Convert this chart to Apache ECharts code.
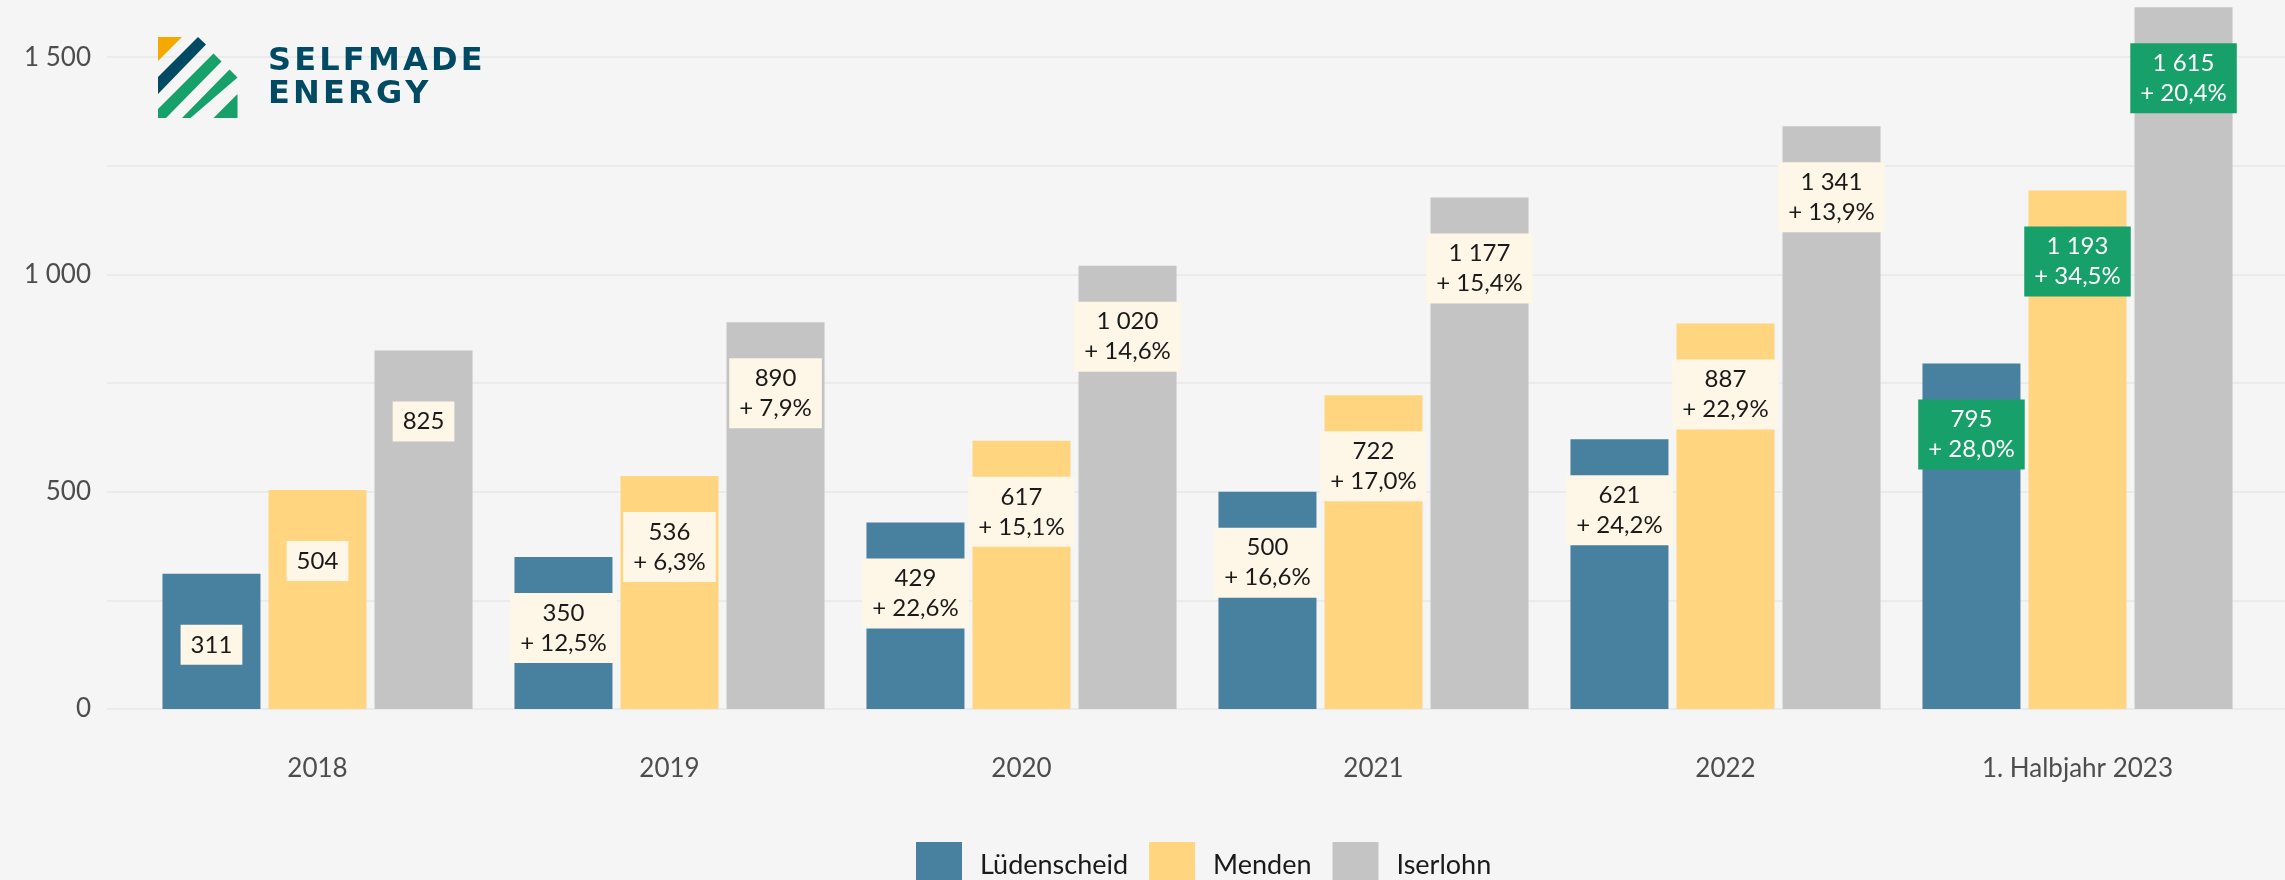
<!DOCTYPE html>
<html>
<head>
<meta charset="utf-8">
<script src="https://cdn.jsdelivr.net/npm/echarts@6/dist/echarts.min.js"></script>
<style>
  html, body { margin: 0; padding: 0; background: #f5f5f5; }
  #chart { width: 2285px; height: 880px; }
</style>
</head>
<body>
<div id="chart"></div>
<script>
// Werte
const categories = ['2018', '2019', '2020', '2021', '2022', '1. Halbjahr 2023'];
const seriesNames = ['Lüdenscheid', 'Menden', 'Iserlohn'];
const colors = ['#48809f', '#ffd580', '#c4c4c4'];

const luedenscheid = [311, 350, 429, 500, 621, 795];
const menden = [504, 536, 617, 722, 887, 1193];
const iserlohn = [825, 890, 1020, 1177, 1341, 1615];

// Wachstum ggü. Vorjahr in %
const growthLuedenscheid = [null, 12.5, 22.6, 16.6, 24.2, 28.0];
const growthMenden = [null, 6.3, 15.1, 17.0, 22.9, 34.5];
const growthIserlohn = [null, 7.9, 14.6, 15.4, 13.9, 20.4];

// letzte Kategorie wird grün hervorgehoben
const highlightIndex = 5;

const FONT = 'Lato';

const fmtNum = v => String(v).replace(/\B(?=(\d{3})+(?!\d))/g, ' ');
const fmtGrowth = g => '+ ' + g.toFixed(1).replace('.', ',') + '%';
// Sperrung fürs Logo (zrender kennt kein letter-spacing)
const spaced = s => s.split('').join('\u200A');

function buildData(values, growth) {
  return values.map((v, i) => {
    const text = growth[i] == null ? fmtNum(v) : fmtNum(v) + '\n' + fmtGrowth(growth[i]);
    const hl = i === highlightIndex;
    return {
      value: v,
      label: {
        formatter: text,
        backgroundColor: hl ? '#17a06a' : '#fef6e6',
        color: hl ? '#ffffff' : '#1a1a1a'
      }
    };
  });
}

const allValues = [luedenscheid, menden, iserlohn];
const allGrowth = [growthLuedenscheid, growthMenden, growthIserlohn];

const series = seriesNames.map((name, k) => ({
  name: name,
  type: 'bar',
  xAxisIndex: 1,
  yAxisIndex: 1,
  barWidth: 98,
  barGap: '8.2%',
  itemStyle: { color: colors[k] },
  label: {
    show: true,
    position: ['50%', 71],
    align: 'center',
    verticalAlign: 'middle',
    fontFamily: FONT,
    fontSize: 24,
    lineHeight: 30,
    padding: [5, 10]
  },
  data: buildData(allValues[k], allGrowth[k])
}));

const myChart = echarts.init(document.getElementById('chart'));

myChart.setOption({
  backgroundColor: '#f5f5f5',
  animation: false,
  grid: [
    { left: 107, right: 0, top: 5, bottom: 171 },
    { left: 141.5, right: 31.5, top: 5, bottom: 171 }
  ],
  xAxis: [
    { gridIndex: 0, type: 'category', data: categories, show: false },
    {
      gridIndex: 1,
      type: 'category',
      data: categories,
      axisLine: { show: false },
      axisTick: { show: false },
      axisLabel: { fontFamily: FONT, fontSize: 26, color: '#4d4d4d', margin: 47 }
    }
  ],
  yAxis: [
    {
      gridIndex: 0,
      type: 'value',
      min: 0,
      max: 1620,
      interval: 250,
      axisLine: { show: false },
      axisTick: { show: false },
      splitLine: { show: true, showMaxLine: false, lineStyle: { color: '#ebebeb', width: 2 } },
      axisLabel: {
        fontFamily: FONT,
        fontSize: 26,
        color: '#4d4d4d',
        margin: 16,
        showMaxLabel: false,
        formatter: v => (v % 500 === 0 ? fmtNum(v) : '')
      }
    },
    { gridIndex: 1, type: 'value', min: 0, max: 1620, interval: 250, show: false, splitLine: { show: false } }
  ],
  legend: {
    data: seriesNames,
    left: 911,
    top: 837,
    icon: 'rect',
    itemWidth: 46,
    itemHeight: 46,
    itemGap: 21,
    formatter: name => '{t|' + name + '}',
    textStyle: {
      fontFamily: FONT,
      fontSize: 27,
      color: '#1a1a1a',
      rich: { t: { fontFamily: FONT, fontSize: 27, color: '#1a1a1a', padding: [0, 0, 0, 13] } }
    }
  },
  graphic: [
    { type: 'polygon', z: 100, shape: { points: [[158, 37], [182, 37], [158, 61]] }, style: { fill: '#f5a800' } },
    { type: 'polygon', z: 100, shape: { points: [[198, 37], [206, 44.5], [158, 94], [158, 77]] }, style: { fill: '#004b63' } },
    { type: 'polygon', z: 100, shape: { points: [[213.5, 53.5], [221.5, 61.5], [166, 118], [158, 118], [158, 109]] }, style: { fill: '#17a06a' } },
    { type: 'polygon', z: 100, shape: { points: [[229.5, 69.5], [237.5, 77.5], [190.5, 118], [182, 118]] }, style: { fill: '#17a06a' } },
    { type: 'polygon', z: 100, shape: { points: [[237.5, 94], [237.5, 118], [213.5, 118]] }, style: { fill: '#17a06a' } },
    {
      type: 'text', z: 100, left: 268, top: 46,
      style: { text: spaced('SELFMADE'), fill: '#004b63', font: 'bold 32px "DejaVu Sans"' }
    },
    {
      type: 'text', z: 100, left: 268, top: 79,
      style: { text: spaced('ENERGY'), fill: '#004b63', font: 'bold 32px "DejaVu Sans"' }
    }
  ],
  series: series
});

window.addEventListener('resize', () => {
  myChart.resize();
});
</script>
</body>
</html>
